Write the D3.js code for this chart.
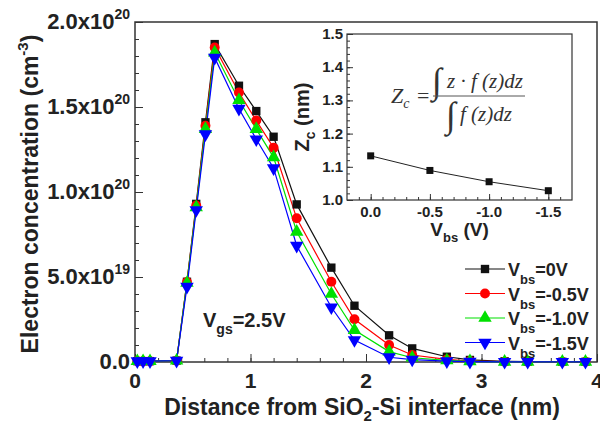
<!DOCTYPE html>
<html>
<head>
<meta charset="utf-8">
<script src="https://cdn.jsdelivr.net/npm/d3@7"></script>
<style>
  body { margin: 0; background: #fff; }
  svg text { font-family: "Liberation Sans", Arial, sans-serif; font-weight: bold; fill: #222; }
  .axis path, .axis line { stroke: #333; }
  .math { font-family: "Liberation Serif", "Times New Roman", serif; font-weight: normal; font-style: italic; fill: #333; }
</style>
</head>
<body>
<div id="chart"></div>
<script>
// distance from interface (nm)
var distance = [0.02, 0.07, 0.13, 0.36, 0.45, 0.53, 0.61, 0.69, 0.90, 1.05, 1.20, 1.40, 1.70, 1.90, 2.20, 2.40, 2.70, 2.90, 3.20, 3.40, 3.70, 3.90]
// electron concentration, units of 1e20 cm^-3
var vbs0   = [0.005, 0.005, 0.005, 0.008, 0.472, 0.93, 1.41, 1.87, 1.625, 1.476, 1.325, 0.927, 0.555, 0.331, 0.157, 0.080, 0.031, 0.012, 0.004, 0.002, 0.001, 0.001]
var vbs05  = [0.005, 0.005, 0.005, 0.008, 0.470, 0.92, 1.39, 1.85, 1.585, 1.420, 1.260, 0.845, 0.472, 0.251, 0.100, 0.041, 0.015, 0.006, 0.002, 0.001, 0.001, 0.001]
var vbs10  = [0.005, 0.005, 0.005, 0.008, 0.465, 0.91, 1.37, 1.82, 1.540, 1.370, 1.204, 0.766, 0.400, 0.188, 0.061, 0.025, 0.009, 0.004, 0.001, 0.001, 0.001, 0.001]
var vbs15  = [0.005, 0.005, 0.005, 0.008, 0.443, 0.894, 1.34, 1.79, 1.490, 1.310, 1.140, 0.684, 0.322, 0.129, 0.028, 0.014, 0.005, 0.002, 0.001, 0.001, 0.001, 0.001]

var seriesNames = ['=0V', '=-0.5V', '=-1.0V', '=-1.5V']
var seriesColors = ['#111111', '#ff0000', '#00e000', '#0000ff']
var seriesShapes = [d3.symbolSquare, d3.symbolCircle, d3.symbolTriangle, d3.symbolTriangle]

var yTickValues = [0, 0.5, 1.0, 1.5, 2.0]
var yTickMant = ['0.0', '5.0x10', '1.0x10', '1.5x10', '2.0x10']
var yTickExp = ['', '19', '20', '20', '20']
var xTickValues = [0, 1, 2, 3, 4]

// inset: centroid Zc vs Vbs
var insetVbs = [0.0, -0.5, -1.0, -1.5]
var insetZc = [1.133, 1.089, 1.055, 1.028]
var insetXTicks = [0.0, -0.5, -1.0, -1.5]
var insetYTicks = [1.0, 1.1, 1.2, 1.3, 1.4, 1.5]

var series = [vbs0, vbs05, vbs10, vbs15]

// SIZING
var W = 600, H = 425
var margin = { top: 22, right: 3, bottom: 63, left: 135 }
var width = W - margin.left - margin.right
var height = H - margin.top - margin.bottom

var svg = d3.select('#chart').append('svg')
  .attr('width', W).attr('height', H)

var g = svg.append('g')
  .attr('transform', 'translate(' + margin.left + ',' + margin.top + ')')

// SCALES
var x = d3.scaleLinear().domain([0, 4]).range([0, width])
var y = d3.scaleLinear().domain([0, 2]).range([height, 0])

// FRAME
g.append('rect')
  .attr('width', width).attr('height', height)
  .attr('fill', 'none').attr('stroke', '#333').attr('stroke-width', 1.5)

// X-AXIS (ticks inward)
g.append('g').attr('class', 'axis')
  .attr('transform', 'translate(0,' + height + ')')
  .call(d3.axisBottom(x).tickValues(xTickValues).tickSize(-8).tickFormat(''))
  .call(s => s.select('.domain').remove())
g.append('g').attr('class', 'axis')
  .attr('transform', 'translate(0,' + height + ')')
  .call(d3.axisBottom(x).tickValues(d3.range(0, 4.01, 0.2)).tickSize(-4).tickFormat(''))
  .call(s => s.select('.domain').remove())

g.selectAll('.xlab').data(xTickValues).enter().append('text')
  .attr('x', d => x(d)).attr('y', height + 26)
  .attr('text-anchor', 'middle')
  .attr('font-size', 21)
  .text(d => d)

// Y-AXIS
g.append('g').attr('class', 'axis')
  .call(d3.axisLeft(y).tickValues(yTickValues).tickSize(-8).tickFormat(''))
  .call(s => s.select('.domain').remove())
g.append('g').attr('class', 'axis')
  .call(d3.axisLeft(y).tickValues(d3.range(0, 2.001, 0.1)).tickSize(-4).tickFormat(''))
  .call(s => s.select('.domain').remove())

var ylab = g.selectAll('.ylab').data(yTickValues).enter().append('text')
  .attr('x', -5).attr('y', d => y(d) + 7)
  .attr('text-anchor', 'end')
  .attr('font-size', 22)
ylab.append('tspan').text((d, i) => yTickMant[i])
ylab.append('tspan').attr('dy', -10).attr('font-size', 14).text((d, i) => yTickExp[i])

// AXIS TITLES
var xt = g.append('text')
  .attr('x', width / 2 - 4).attr('y', height + 53)
  .attr('text-anchor', 'middle').attr('font-size', 23)
xt.append('tspan').text('Distance from SiO')
xt.append('tspan').attr('dy', 6).attr('font-size', 15).text('2')
xt.append('tspan').attr('dy', -6).text('-Si interface (nm)')

var yt = g.append('text')
  .attr('transform', 'translate(' + (-97) + ',' + (height / 2 + 2) + ') rotate(-90)')
  .attr('text-anchor', 'middle').attr('font-size', 23)
yt.append('tspan').text('Electron concentration (cm')
yt.append('tspan').attr('dy', -10).attr('font-size', 15).text('-3')
yt.append('tspan').attr('dy', 10).text(')')

// LINES + MARKERS
var line = d3.line()
  .x((d, i) => x(distance[i]))
  .y(d => y(d))

series.forEach(function(s, k) {
  g.append('path')
    .datum(s)
    .attr('fill', 'none')
    .attr('stroke', seriesColors[k])
    .attr('stroke-width', 1.2)
    .attr('d', line)
})
series.forEach(function(s, k) {
  var sym = d3.symbol().type(seriesShapes[k]).size(k === 0 ? 70 : 78)
  g.selectAll('.m' + k).data(s).enter().append('path')
    .attr('transform', (d, i) => 'translate(' + x(distance[i]) + ',' + y(d) + ')' + (k === 3 ? ' rotate(180)' : ''))
    .attr('d', sym)
    .attr('fill', seriesColors[k])
})

// Vgs LABEL
var vgs = g.append('text')
  .attr('x', 68).attr('y', 305)
  .attr('font-size', 20)
vgs.append('tspan').text('V')
vgs.append('tspan').attr('dy', 7).attr('font-size', 14).text('gs')
vgs.append('tspan').attr('dy', -7).text('=2.5V')

// LEGEND
var legend = g.append('g').attr('transform', 'translate(330,247)')
seriesNames.forEach(function(name, k) {
  var row = legend.append('g').attr('transform', 'translate(0,' + (k * 24.5) + ')')
  row.append('line').attr('x1', 0).attr('x2', 40).attr('y1', 0).attr('y2', 0)
    .attr('stroke', seriesColors[k]).attr('stroke-width', 1.2)
  row.append('path')
    .attr('transform', 'translate(20,0)' + (k === 3 ? ' rotate(180)' : ''))
    .attr('d', d3.symbol().type(seriesShapes[k]).size(k === 0 ? 70 : 78))
    .attr('fill', seriesColors[k])
  var t = row.append('text').attr('x', 43).attr('y', 7).attr('font-size', 18)
  t.append('tspan').text('V')
  t.append('tspan').attr('dy', 8).attr('font-size', 13).text('bs')
  t.append('tspan').attr('dy', -8).text(name)
})

// INSET
var inset = { left: 347, top: 34, right: 572, bottom: 200 }
var iw = inset.right - inset.left, ih = inset.bottom - inset.top
var ig = svg.append('g').attr('transform', 'translate(' + inset.left + ',' + inset.top + ')')
var ix = d3.scaleLinear().domain([0.2, -1.7]).range([0, iw])
var iy = d3.scaleLinear().domain([1.0, 1.5]).range([ih, 0])

ig.append('rect').attr('width', iw).attr('height', ih)
  .attr('fill', '#fff').attr('stroke', '#333').attr('stroke-width', 1.2)

ig.append('g').attr('class', 'axis')
  .attr('transform', 'translate(0,' + ih + ')')
  .call(d3.axisBottom(ix).tickValues(insetXTicks).tickSize(-6).tickFormat(''))
  .call(s => s.select('.domain').remove())
ig.append('g').attr('class', 'axis')
  .attr('transform', 'translate(0,' + ih + ')')
  .call(d3.axisBottom(ix).tickValues(d3.range(0.1, -1.65, -0.1)).tickSize(-3).tickFormat(''))
  .call(s => s.select('.domain').remove())
ig.append('g').attr('class', 'axis')
  .call(d3.axisLeft(iy).tickValues(insetYTicks).tickSize(-6).tickFormat(''))
  .call(s => s.select('.domain').remove())
ig.append('g').attr('class', 'axis')
  .call(d3.axisLeft(iy).tickValues(d3.range(1.0, 1.501, 0.02)).tickSize(-3).tickFormat(''))
  .call(s => s.select('.domain').remove())

ig.selectAll('.ixl').data(insetXTicks).enter().append('text')
  .attr('x', d => ix(d)).attr('y', ih + 17)
  .attr('text-anchor', 'middle').attr('font-size', 15)
  .text(d => d3.format('.1f')(d).replace('−', '-'))
ig.selectAll('.iyl').data(insetYTicks).enter().append('text')
  .attr('x', -4).attr('y', d => iy(d) + 5)
  .attr('text-anchor', 'end').attr('font-size', 15)
  .text(d => d3.format('.1f')(d))

var ixt = ig.append('text').attr('x', ix(-0.75)).attr('y', ih + 36)
  .attr('text-anchor', 'middle').attr('font-size', 19)
ixt.append('tspan').text('V')
ixt.append('tspan').attr('dy', 6).attr('font-size', 13).text('bs')
ixt.append('tspan').attr('dy', -6).text(' (V)')

var iyt = ig.append('text')
  .attr('transform', 'translate(-38,' + (ih / 2) + ') rotate(-90)')
  .attr('text-anchor', 'middle').attr('font-size', 20)
iyt.append('tspan').text('Z')
iyt.append('tspan').attr('dy', 6).attr('font-size', 14).text('c')
iyt.append('tspan').attr('dy', -6).text(' (nm)')

ig.append('path')
  .datum(insetZc)
  .attr('fill', 'none').attr('stroke', '#222').attr('stroke-width', 1)
  .attr('d', d3.line().x((d, i) => ix(insetVbs[i])).y(d => iy(d)))
ig.selectAll('.ipt').data(insetZc).enter().append('rect')
  .attr('x', (d, i) => ix(insetVbs[i]) - 3.5).attr('y', d => iy(d) - 3.5)
  .attr('width', 7).attr('height', 7).attr('fill', '#111')

// FORMULA
var fm = ig.append('g')
var zc = fm.append('text').attr('class', 'math').attr('x', 44).attr('y', 69).attr('font-size', 22)
zc.append('tspan').text('Z')
zc.append('tspan').attr('dy', 5).attr('font-size', 14).text('c')
fm.append('text').attr('class', 'math').attr('x', 70).attr('y', 69)
  .attr('font-size', 22).style('font-style', 'normal').text('=')
fm.append('text').attr('class', 'math').attr('x', 85).attr('y', 59)
  .attr('font-size', 36).style('font-style', 'normal').text('\u222B')
fm.append('text').attr('class', 'math').attr('x', 100).attr('y', 54)
  .attr('font-size', 21).text('z \u00B7 f (z)dz')
fm.append('line').attr('x1', 86).attr('x2', 178).attr('y1', 62).attr('y2', 62)
  .attr('stroke', '#555').attr('stroke-width', 1)
fm.append('text').attr('class', 'math').attr('x', 99).attr('y', 93)
  .attr('font-size', 36).style('font-style', 'normal').text('\u222B')
fm.append('text').attr('class', 'math').attr('x', 113).attr('y', 87)
  .attr('font-size', 21).text('f (z)dz')
</script>
</body>
</html>
